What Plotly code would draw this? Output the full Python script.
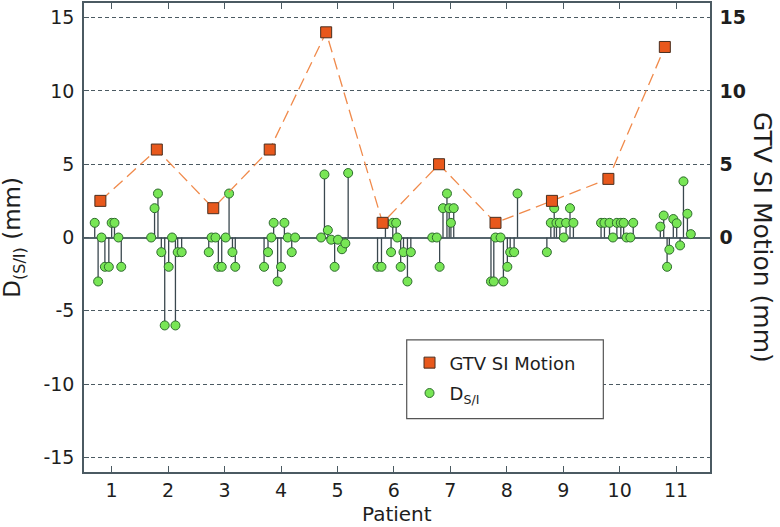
import plotly.graph_objects as go

patients = list(range(1, 12))
gtv_motion = [2.5, 6, 2, 6, 14, 1, 5, 1, 2.5, 4, 13]

# D(S/I) measurements: x position (patient axis) and value (mm)
ds_x = [
    0.70, 0.76, 0.82, 0.88, 0.95, 1.00, 1.05, 1.12, 1.17,
    1.70, 1.76, 1.82, 1.88, 1.94, 2.01, 2.07, 2.13, 2.17, 2.24,
    2.72, 2.77, 2.84, 2.89, 2.95, 3.02, 3.08, 3.14, 3.19,
    3.70, 3.77, 3.83, 3.87, 3.94, 4.00, 4.06, 4.12, 4.19, 4.25,
    4.71, 4.77, 4.83, 4.89, 4.95, 5.01, 5.08, 5.14, 5.19,
    5.71, 5.78, 5.85, 5.95, 5.98, 6.04, 6.06, 6.12, 6.17, 6.24, 6.30,
    6.68, 6.76, 6.81, 6.87, 6.94, 6.98, 7.01, 7.06,
    7.72, 7.77, 7.80, 7.89, 7.94, 8.01, 8.06, 8.13, 8.19,
    8.71, 8.78, 8.84, 8.88, 8.94, 9.01, 9.05, 9.12, 9.18,
    9.67, 9.73, 9.82, 9.88, 9.95, 10.02, 10.07, 10.12, 10.19, 10.24,
    10.72, 10.78, 10.84, 10.88, 10.95, 11.01, 11.07, 11.13, 11.20, 11.26,
]
ds_y = [
    1, -3, 0, -2, -2, 1, 1, 0, -2,
    0, 2, 3, -1, -6, -2, 0, -6, -1, -1,
    -1, 0, 0, -2, -2, 0, 3, -1, -2,
    -2, -1, 0, 1, -3, -2, 1, 0, -1, 0,
    0, 4.3, 0.5, -0.15, -2, -0.15, -0.8, -0.4, 4.4,
    -2, -2, 1, -1, 1, 1, 0, -2, -1, -3, -1,
    0, 0, -2, 2, 3, 2, 1, 2,
    -3, -3, 0, 0, -3, -2, -1, -1, 3,
    -1, 1, 2, 1, 1, 0, 1, 2, 1,
    1, 1, 1, 0, 1, 1, 1, 0, 0, 1,
    0.74, 1.5, -2.0, -0.83, 1.26, 0.97, -0.54, 3.83, 1.62, 0.23,
]

y_ticks = [-15, -10, -5, 0, 5, 10, 15]
y_ticktext = ["-15", "-10", "-5", "0", "5", "10", "15"]
y2_ticks = [0, 5, 10, 15]

gtv_x = [p - 0.2 for p in patients]

stem_x, stem_y = [], []
for xv, yv in zip(ds_x, ds_y):
    stem_x += [xv, xv, None]
    stem_y += [0, yv, None]

AX = "#4b5a62"
TXT = "#1e1e1e"
FONT = "DejaVu Sans"

fig = go.Figure()
fig.add_trace(go.Scatter(x=stem_x, y=stem_y, mode="lines",
                         line=dict(color="#3a474e", width=1.3),
                         showlegend=False, hoverinfo="skip"))
fig.add_trace(go.Scatter(x=ds_x, y=ds_y, mode="markers", name="D<sub>S/I</sub>",
                         legendrank=2, legendgroup="b",
                         marker=dict(symbol="circle", size=9, color="#78e655",
                                     line=dict(color="#2e6b2e", width=1))))
fig.add_trace(go.Scatter(x=gtv_x, y=gtv_motion, mode="lines", yaxis="y2",
                         line=dict(color="#f08a4b", width=1.3, dash="12px,6px"),
                         showlegend=False, hoverinfo="skip"))
fig.add_trace(go.Scatter(x=gtv_x, y=gtv_motion, mode="markers", yaxis="y2",
                         name="GTV SI Motion", legendrank=1, legendgroup="a",
                         marker=dict(symbol="square", size=11, color="#e8581c",
                                     line=dict(color="#4a2e1e", width=1))))

fig.update_layout(
    width=780, height=527,
    margin=dict(l=84, r=70, t=1, b=55),
    paper_bgcolor="white", plot_bgcolor="white",
    font=dict(family=FONT, color=TXT),
    xaxis=dict(range=[0.51, 11.6], tickvals=patients, ticks="inside", ticklen=6,
               tickcolor=AX, tickwidth=1.2, showline=True, linecolor=AX, linewidth=1.5,
               mirror="ticks", showgrid=False, zeroline=False,
               tickfont=dict(size=19, color=TXT, family=FONT)),
    yaxis=dict(range=[-16, 16], tickvals=y_ticks, ticktext=y_ticktext,
               ticks="inside", ticklen=5, tickcolor=AX, showline=True, linecolor=AX,
               linewidth=1.5, showgrid=True, gridcolor=AX, gridwidth=1.2,
               griddash="4px,3px", zeroline=True, zerolinecolor="#56666e",
               zerolinewidth=1.6, ticklabelstandoff=4,
               tickfont=dict(size=19, color=TXT, family=FONT)),
    yaxis2=dict(range=[-16, 16], overlaying="y", side="right", tickvals=y2_ticks,
                showline=True, linecolor=AX, linewidth=1.5, showgrid=False,
                zeroline=False, ticks="", ticklabelstandoff=4,
                tickfont=dict(size=19, color=TXT, family=FONT, weight="bold")),
    legend=dict(x=0.52, y=0.272, xanchor="left", yanchor="top",
                bgcolor="rgba(0,0,0,0)", borderwidth=0, tracegroupgap=4,
                traceorder="grouped", font=dict(size=18, color=TXT, family=FONT)),
    shapes=[dict(type="rect", xref="paper", yref="paper", x0=0.5155, x1=0.8296,
                 y0=0.114, y1=0.2817, line=dict(color="#555", width=1.2),
                 fillcolor="white", layer="above")],
    annotations=[
        dict(text="D<sub>(S/I)</sub> (mm)", xref="paper", yref="paper",
             x=-0.113, y=0.5, textangle=-90, showarrow=False,
             xanchor="center", yanchor="middle", font=dict(size=23, color=TXT)),
        dict(text="GTV SI Motion (mm)", xref="paper", yref="paper",
             x=1.084, y=0.5, textangle=90, showarrow=False,
             xanchor="center", yanchor="middle", font=dict(size=25, color=TXT)),
        dict(text="Patient", xref="paper", yref="paper", x=0.5, y=-0.089,
             showarrow=False, xanchor="center", yanchor="middle",
             font=dict(size=20, color=TXT)),
    ],
)

fig.write_html("out.html", config={"displayModeBar": False},
               post_script="document.body.style.margin='0';document.body.style.padding='0';")
